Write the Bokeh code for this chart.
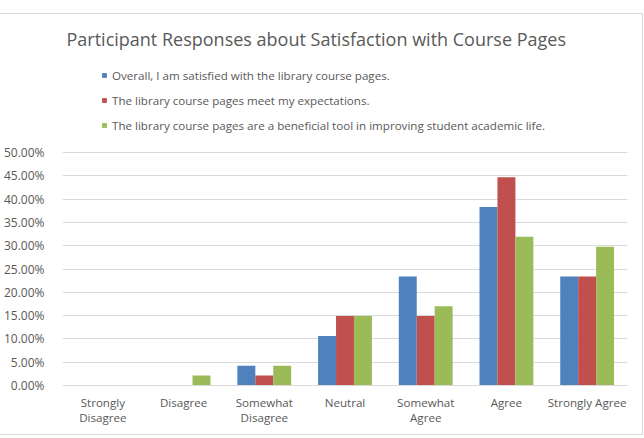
from bokeh.plotting import figure
from bokeh.models import (ColumnDataSource, FactorRange, Range1d, FixedTicker,
                          NumeralTickFormatter, Legend, LegendItem)
from bokeh.transform import dodge
from bokeh.embed import file_html
from bokeh.resources import INLINE

# Survey responses (share of participants) for each statement
categories = ["Strongly\nDisagree", "Disagree", "Somewhat\nDisagree", "Neutral",
              "Somewhat\nAgree", "Agree", "Strongly Agree"]
overall_satisfied = [0.0, 0.0, 0.0426, 0.1064, 0.2340, 0.3830, 0.2340]
meets_expectations = [0.0, 0.0, 0.0213, 0.1489, 0.1489, 0.4468, 0.2340]
beneficial_tool = [0.0, 0.0213, 0.0426, 0.1489, 0.1702, 0.3191, 0.2979]

series_labels = [
    "Overall, I am satisfied with the library course pages.",
    "The library course pages meet my expectations.",
    "The library course pages are a beneficial tool in improving student academic life.",
]
y_ticks = [0.0, 0.05, 0.10, 0.15, 0.20, 0.25, 0.30, 0.35, 0.40, 0.45, 0.50]

colors = ["#4F81BD", "#C0504D", "#9BBB59"]
text_color = "#595959"
grid_color = "#D9D9D9"
font = "Open Sans"

source = ColumnDataSource(dict(
    cat=categories,
    s0=overall_satisfied,
    s1=meets_expectations,
    s2=beneficial_tool,
))

W, H = 643, 422
# frame spans from just under the title down to the 0% line; the
# 0-50% scale occupies the lower part, the legend sits in the upper part
frame_top, zero_px, fifty_px = 41, 371, 138
y_top = 0.5 * (zero_px - frame_top) / (zero_px - fifty_px)

p = figure(
    width=W, height=H,
    x_range=FactorRange(*categories, range_padding=0),
    y_range=Range1d(0, y_top),
    output_backend="svg", toolbar_location=None,
    min_border_left=58, min_border_right=16,
    min_border_top=frame_top, min_border_bottom=H - zero_px,
)
p.styles = {
    "border-top": "1px solid #D9D9D9",
    "border-right": "1px solid #D9D9D9",
    "border-bottom": "1px solid #D9D9D9",
    "margin-top": "13px",
}
p.outline_line_color = None
p.background_fill_color = "white"
p.border_fill_color = "white"

# title centred on the whole chart area rather than on the plot frame
p.title.text = "Participant Responses about Satisfaction with Course Pages"
p.title.align = "left"
p.title.offset = 4
p.title.text_font = font
p.title.text_font_size = "18px"
p.title.text_font_style = "normal"
p.title.text_color = text_color

bar_w = 1 / 4.5
offsets = [-bar_w, 0.0, bar_w]
renderers = []
for i, (col, off) in enumerate(zip(["s0", "s1", "s2"], offsets)):
    r = p.vbar(x=dodge("cat", off, range=p.x_range), top=col, width=bar_w,
               source=source, fill_color=colors[i], line_color=None)
    renderers.append(r)

legend = Legend(
    items=[LegendItem(label=lbl, renderers=[r]) for lbl, r in zip(series_labels, renderers)],
    location=(39, 250),
    orientation="vertical",
    glyph_width=6, glyph_height=6,
    label_height=20, spacing=5, label_standoff=5,
    padding=0, margin=0,
    border_line_color=None, background_fill_alpha=0,
    label_text_font=font, label_text_font_size="11.6px", label_text_color=text_color,
)
p.add_layout(legend, "center")

# y axis: percentage ticks, no line or tick marks
p.yaxis.ticker = FixedTicker(ticks=y_ticks)
p.yaxis.formatter = NumeralTickFormatter(format="0.00%")
p.yaxis.axis_line_color = None
p.yaxis.major_tick_line_color = None
p.yaxis.minor_tick_line_color = None
p.yaxis.major_label_standoff = 12
p.yaxis.major_label_text_font = font
p.yaxis.major_label_text_font_size = "12px"
p.yaxis.major_label_text_color = text_color

p.xaxis.axis_line_color = grid_color
p.xaxis.major_tick_line_color = None
p.xaxis.minor_tick_line_color = None
p.xaxis.major_label_standoff = 3
p.xaxis.major_label_text_font = font
p.xaxis.major_label_text_font_size = "11.6px"
p.xaxis.major_label_text_line_height = 1.0
p.xaxis.major_label_text_color = text_color

p.xgrid.grid_line_color = None
p.ygrid.grid_line_color = grid_color
p.ygrid.ticker = FixedTicker(ticks=y_ticks)

open("out.html", "w").write(file_html(p, INLINE))
